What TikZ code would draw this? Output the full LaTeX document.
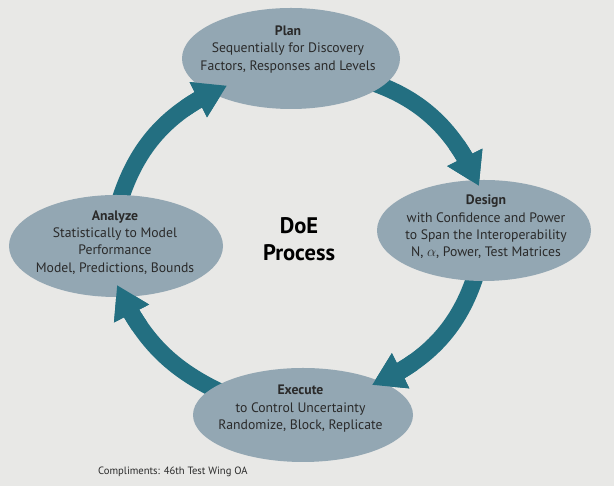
\documentclass[tikz,border=0pt]{standalone}
\usepackage{fontspec}
\setmainfont{PT Sans}
\usetikzlibrary{shapes.geometric,arrows.meta,bending}
\definecolor{bgc}{HTML}{E8E8E6}
\definecolor{ellc}{HTML}{93A7B3}
\definecolor{arrc}{HTML}{236F81}
\definecolor{txtc}{HTML}{2A2A2A}
\begin{document}
\begin{tikzpicture}[x=1pt,y=1pt,
  stage/.style={ellipse, fill=ellc, draw=none, inner sep=0pt},
  lbl/.style={align=center, text=txtc, font=\fontsize{13.7}{17.3}\selectfont, inner sep=0pt, anchor=north},
  flow/.style={draw=arrc, line width=17pt, -{Triangle[length=32pt,width=37pt,flex]}},
]
\fill[bgc] (0,0) rectangle (614,486);
\useasboundingbox (0,0) rectangle (614,486);

% arrow end points
\coordinate (a1s) at (116.5,274.2);
\coordinate (a1e) at (227,400.4);
\coordinate (a2s) at (348,410.4);
\coordinate (a2e) at (479,300);
\coordinate (a3s) at (481,230.6);
\coordinate (a3e) at (372,101);
\coordinate (a4s) at (229,90);
\coordinate (a4e) at (117,201);

% arrows (tails go behind the ellipses)
\draw[flow] (a1s) to[bend left=26] (a1e);
\draw[flow] (a2s) to[bend left=27] (a2e);
\draw[flow] (a3s) to[bend left=27] (a3e);
\draw[flow] (a4s) to[bend left=21] (a4e);

% ellipses
\node[stage, minimum width=218pt, minimum height=101pt] (plan) at (291,427.5) {};
\node[stage, minimum width=214pt, minimum height=101pt] (design) at (484,255.5) {};
\node[stage, minimum width=214pt, minimum height=102pt] (analyze) at (116,240) {};
\node[stage, minimum width=220pt, minimum height=94pt] (execute) at (303,71) {};

% arrow heads drawn over the target ellipses
\begin{scope}\clip (a1e) circle (48);\draw[flow] (a1s) to[bend left=26] (a1e);\end{scope}
\begin{scope}\clip (a2e) circle (48);\draw[flow] (a2s) to[bend left=27] (a2e);\end{scope}
\begin{scope}\clip (a3e) circle (48);\draw[flow] (a3s) to[bend left=27] (a3e);\end{scope}
\begin{scope}\clip (a4e) circle (48);\draw[flow] (a4s) to[bend left=21] (a4e);\end{scope}

% texts
\node[lbl] (plantxt) at (288,460.5) {\textbf{Plan}\\Sequentially for Discovery\\Factors, Responses and Levels};
\node[lbl] (designtxt) at (486,291) {\textbf{Design}\\with Confidence and Power\\to Span the Interoperability\\N, $\alpha$, Power, Test Matrices};
\node[lbl] (analyzetxt) at (115,275.5) {\textbf{Analyze}\\Statistically to Model\\Performance\\Model, Predictions, Bounds};
\node[lbl] (executetxt) at (300.5,101) {\textbf{Execute}\\to Control Uncertainty\\Randomize, Block, Replicate};
\node[align=center, text=black, font=\fontsize{22.5}{27}\selectfont\bfseries, inner sep=0pt, anchor=north] (doe) at (299,268.5) {DoE\\Process};
\node[text=txtc, font=\fontsize{10.6}{12}\selectfont, inner sep=0pt, anchor=base west] (credit) at (98,11) {Compliments: 46th Test Wing OA};
\end{tikzpicture}
\end{document}
